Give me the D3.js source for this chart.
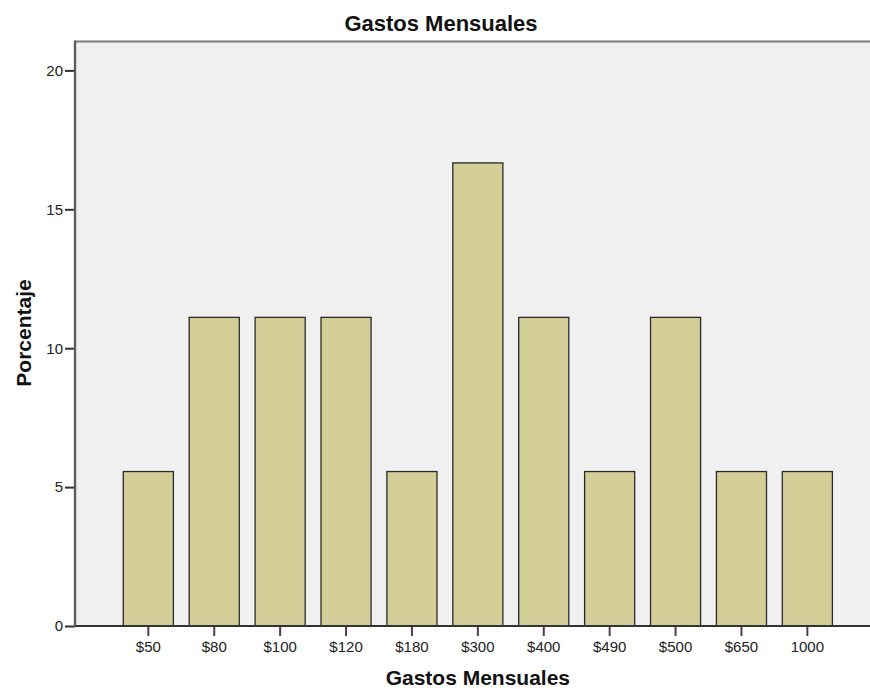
<!DOCTYPE html>
<html>
<head>
<meta charset="utf-8">
<script src="https://cdn.jsdelivr.net/npm/d3@7"></script>
<style>
  html, body { margin: 0; padding: 0; background: #fff; }
  svg { display: block; font-family: "Liberation Sans", Arial, sans-serif; }
</style>
</head>
<body>
<svg id="chart" width="870" height="689"></svg>
<script>
// Monthly spending categories and their share of respondents (%)
const categories = ["$50", "$80", "$100", "$120", "$180", "$300", "$400", "$490", "$500", "$650", "1000"];
const percentages = [5.56, 11.11, 11.11, 11.11, 5.56, 16.67, 11.11, 5.56, 11.11, 5.56, 5.56];
const yTicks = [0, 5, 10, 15, 20];

const chartTitle = "Gastos Mensuales";
const xTitle = "Gastos Mensuales";
const yTitle = "Porcentaje";

const svg = d3.select("#chart");
const W = 870, H = 689;
const plot = { left: 75, top: 41.5, right: 870, bottom: 626 };

const x = d3.scaleBand()
  .domain(categories)
  .range([123.3, 832.4])
  .paddingInner(0.24)
  .paddingOuter(0);

const y = d3.scaleLinear()
  .domain([0, 20])
  .range([plot.bottom, 70.4]);

// plot background
svg.append("rect")
  .attr("x", plot.left)
  .attr("y", plot.top)
  .attr("width", plot.right - plot.left)
  .attr("height", plot.bottom - plot.top)
  .attr("fill", "#f0f0f0");

// top frame line
svg.append("line")
  .attr("x1", plot.left).attr("x2", plot.right)
  .attr("y1", plot.top).attr("y2", plot.top)
  .attr("stroke", "#7a7a7a").attr("stroke-width", 2);

// bars
svg.append("g").selectAll("rect")
  .data(categories.map((c, i) => ({ c, v: percentages[i] })))
  .join("rect")
  .attr("x", d => x(d.c))
  .attr("y", d => y(d.v))
  .attr("width", x.bandwidth())
  .attr("height", d => y(0) - y(d.v))
  .attr("fill", "#d3ce97")
  .attr("stroke", "#2a2a2a")
  .attr("stroke-width", 1.3);

// y axis
const yAxis = svg.append("g")
  .attr("transform", `translate(${plot.left},0)`)
  .call(d3.axisLeft(y).tickValues(yTicks).tickSize(10).tickPadding(2).tickFormat(d3.format("d")));
yAxis.select(".domain").remove();
yAxis.selectAll(".tick line").attr("stroke", "#333").attr("stroke-width", 2);
yAxis.selectAll(".tick text")
  .attr("font-size", 15).attr("fill", "#222")
  .attr("font-family", "'Liberation Sans', Arial, sans-serif");

svg.append("line")
  .attr("x1", plot.left).attr("x2", plot.left)
  .attr("y1", plot.top - 1).attr("y2", plot.bottom + 1)
  .attr("stroke", "#5c5c5c").attr("stroke-width", 2.4);

// x axis
const xAxis = svg.append("g")
  .attr("transform", `translate(0,${plot.bottom})`)
  .call(d3.axisBottom(x).tickSize(10).tickPadding(5));
xAxis.select(".domain").remove();
xAxis.selectAll(".tick line").attr("stroke", "#444").attr("stroke-width", 2);
xAxis.selectAll(".tick text")
  .attr("font-size", 15).attr("fill", "#222")
  .attr("font-family", "'Liberation Sans', Arial, sans-serif");

svg.append("line")
  .attr("x1", plot.left).attr("x2", plot.right)
  .attr("y1", plot.bottom).attr("y2", plot.bottom)
  .attr("stroke", "#333").attr("stroke-width", 2);

// titles
svg.append("text")
  .attr("x", 441).attr("y", 31)
  .attr("text-anchor", "middle")
  .attr("font-size", 22).attr("font-weight", "bold").attr("fill", "#111")
  .text(chartTitle);

svg.append("text")
  .attr("x", (x.range()[0] + x.range()[1]) / 2).attr("y", 685)
  .attr("text-anchor", "middle")
  .attr("font-size", 21).attr("font-weight", "bold").attr("fill", "#111")
  .text(xTitle);

svg.append("text")
  .attr("transform", `translate(31,333) rotate(-90)`)
  .attr("text-anchor", "middle")
  .attr("font-size", 21).attr("font-weight", "bold").attr("fill", "#111")
  .text(yTitle);
</script>
</body>
</html>
